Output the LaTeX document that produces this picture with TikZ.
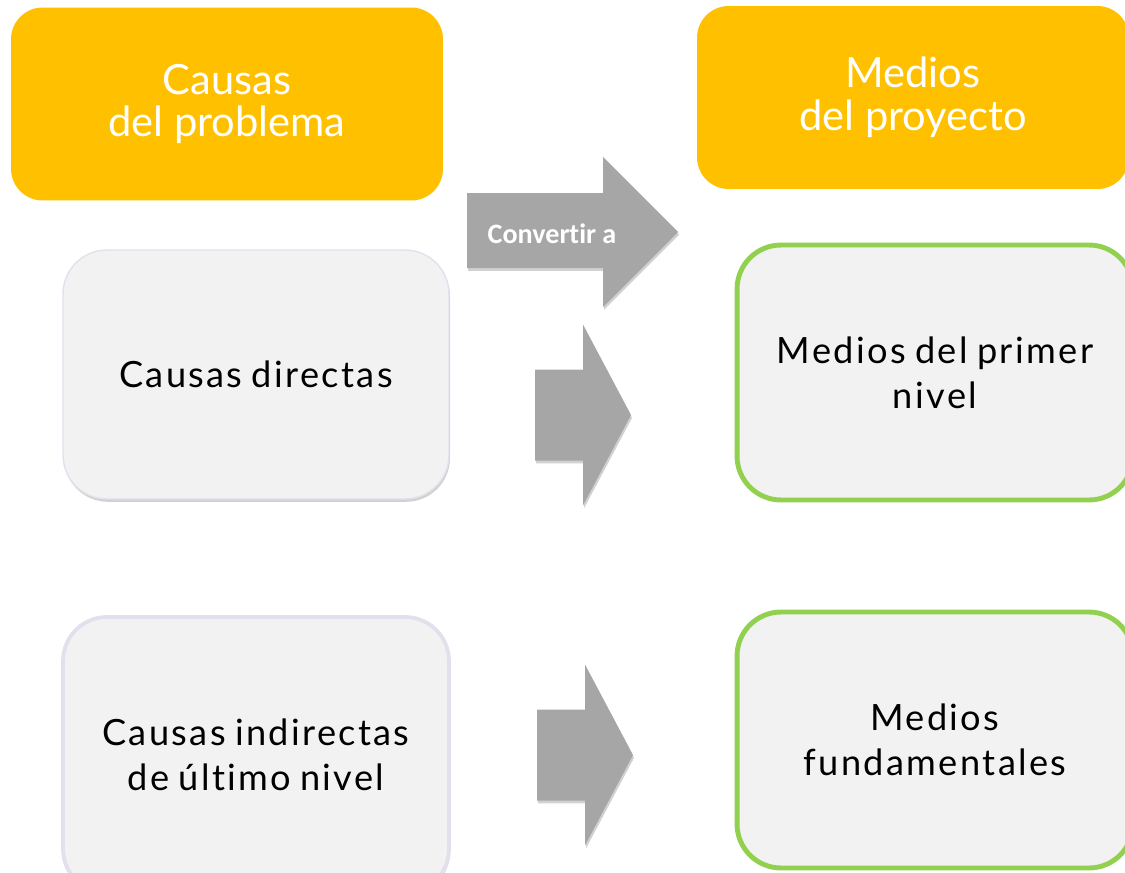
\documentclass[tikz,border=0pt]{standalone}
\usepackage{fontspec}
\setmainfont{Lato}[Ligatures=NoCommon]
\newfontfamily\cuerpo{Lato}[LetterSpace=6.5, WordSpace=0.8, Ligatures=NoCommon]
\newfontfamily\carlito{Carlito}[Ligatures=NoCommon]
\usetikzlibrary{shadows}
\definecolor{amarillo}{HTML}{FFC000}
\definecolor{fondogris}{HTML}{F2F2F2}
\definecolor{lila}{HTML}{E4DFEC}
\definecolor{verde}{HTML}{92D050}
\definecolor{grisflecha}{HTML}{A6A6A6}
\tikzset{
    sombra/.style={drop shadow={shadow xshift=0.6pt, shadow yshift=-1.6pt, opacity=0.18, fill=black}}, % sombra suave
    titulo/.style={fill=amarillo, rounded corners=18pt, text=white, align=center, inner sep=0pt,
        font=\fontsize{23.7}{24.4}\selectfont}, % cajas de encabezado
    caja/.style={fill=fondogris, rounded corners=25pt, align=center, inner sep=0pt,
        minimum width=7.72cm, font=\cuerpo\fontsize{20.6}{25.5}\selectfont}, % cajas de contenido
    causa/.style={caja, draw=lila, sombra}, % columna izquierda
    medio/.style={caja, draw=verde, line width=2.8pt, minimum width=7.92cm}, % columna derecha
    flecha/.style={fill=grisflecha, sombra} % flechas de bloque
}
\begin{document}
\begin{tikzpicture}[x=0.02cm, y=-0.02cm]
    \useasboundingbox (0,0) rectangle (1125,872);
    \clip (0,0) rectangle (1125,872);

    % encabezados
    \node[titulo, minimum width=8.64cm, minimum height=3.86cm] (causas) at (227,104) {Causas\\del problema};
    \node[titulo, minimum width=8.64cm, minimum height=3.66cm] (medios) at (913,97.5) {Medios\\del proyecto};

    % cajas
    \node[causa, line width=0.8pt, minimum height=4.98cm] (directas) at (256,374.5) {Causas directas};
    \node[causa, line width=2.2pt, minimum height=5.52cm] (indirectas) at (256,755) {Causas indirectas\\de último nivel};
    \node[medio, minimum height=5.1cm] (primer) at (935,372.5) {Medios del primer\\nivel};
    \node[medio, minimum height=5.12cm] (fundam) at (935,740) {Medios\\fundamentales};

    % flecha principal
    \fill[flecha] (467,193) -- (603,193) -- (603,157) -- (678,232) -- (603,307) -- (603,268) -- (467,268) -- cycle;
    \node[text=white, font=\carlito\bfseries\fontsize{16}{16}\selectfont] (convertir) at (552,234) {Convertir a};

    % flechas entre filas
    \foreach \x/\y in {535/415, 537/755}
        \fill[flecha] (\x,\y-45.5) -- (\x+48,\y-45.5) -- (\x+48,\y-90.5) -- (\x+96,\y)
            -- (\x+48,\y+90.5) -- (\x+48,\y+45.5) -- (\x,\y+45.5) -- cycle;
\end{tikzpicture}
\end{document}
